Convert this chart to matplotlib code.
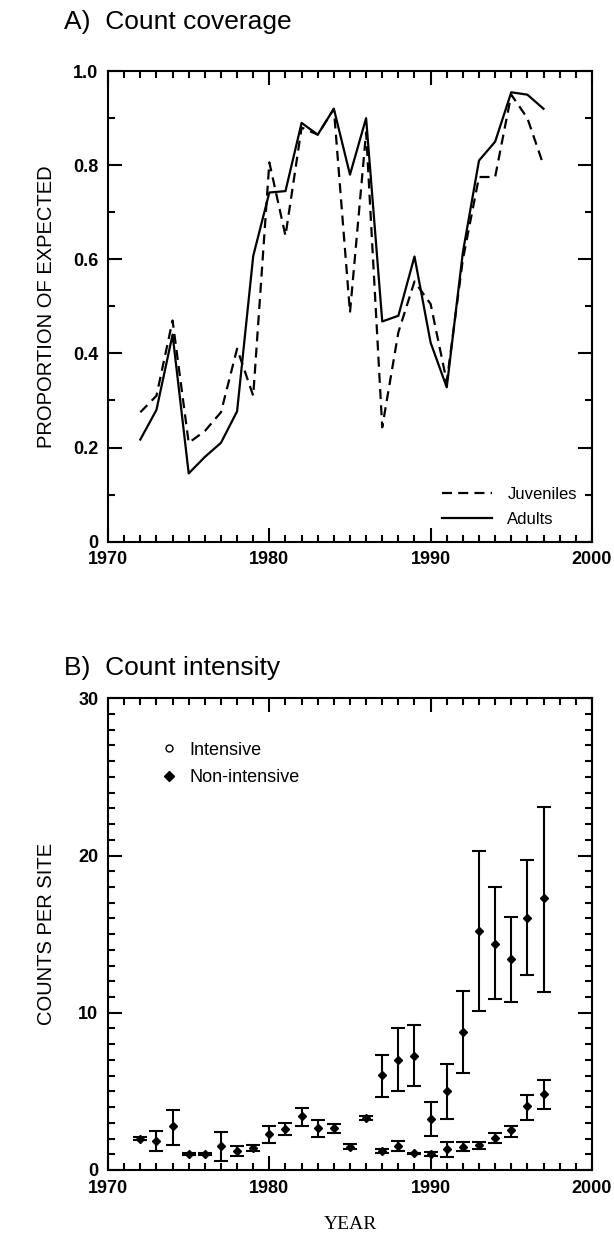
import numpy as np
import matplotlib
matplotlib.use('Agg')
import matplotlib.pyplot as plt
from matplotlib.lines import Line2D
from matplotlib.ticker import MultipleLocator

plt.rcParams['font.family'] = ['Liberation Sans', 'DejaVu Sans']

# A) count coverage
years_a = np.arange(1972, 1998)
juveniles = [0.275, 0.31, 0.47, 0.21, 0.235, 0.275, 0.41, 0.31, 0.806, 0.65,
             0.88, 0.865, 0.92, 0.487, 0.87, 0.243, 0.445, 0.553, 0.505, 0.34,
             0.60, 0.775, 0.775, 0.95, 0.90, 0.80]
adults = [0.217, 0.28, 0.44, 0.145, 0.18, 0.21, 0.277, 0.607, 0.742, 0.745,
          0.89, 0.865, 0.92, 0.78, 0.90, 0.468, 0.48, 0.606, 0.423, 0.328,
          0.615, 0.81, 0.85, 0.955, 0.95, 0.92]

# B) count intensity, low series (all years)
years_low = np.arange(1972, 1998)
low_mid = [2.0, 1.87, 2.77, 1.02, 1.02, 1.53, 1.21, 1.38, 2.28, 2.6,
           3.45, 2.66, 2.66, 1.49, 3.3, 1.21, 1.53, 1.06, 1.02, 1.34,
           1.49, 1.57, 2.06, 2.55, 4.04, 4.85]
low_top = [2.1, 2.49, 3.83, 1.1, 1.1, 2.4, 1.53, 1.57, 2.81, 2.98,
           3.94, 3.15, 2.94, 1.66, 3.45, 1.34, 1.87, 1.11, 1.17, 1.79,
           1.77, 1.81, 2.38, 2.81, 4.79, 5.74]
low_bot = [1.9, 1.19, 1.6, 0.94, 0.94, 0.57, 0.91, 1.19, 1.74, 2.23,
           2.81, 2.13, 2.38, 1.32, 3.15, 1.06, 1.21, 1.01, 0.87, 0.81,
           1.23, 1.34, 1.7, 2.13, 3.19, 3.87]

# high series (from 1987)
years_high = np.arange(1987, 1998)
high_mid = [6.02, 7.02, 7.28, 3.26, 5.0, 8.8, 15.2, 14.4, 13.4, 16.05, 17.3]
high_top = [7.34, 9.0, 9.2, 4.3, 6.74, 11.4, 20.3, 18.0, 16.1, 19.7, 23.1]
high_bot = [4.64, 5.0, 5.36, 2.17, 3.23, 6.17, 10.1, 10.9, 10.7, 12.4, 11.3]


def style_axes(ax):
    for s in ax.spines.values():
        s.set_linewidth(1.5)
    ax.tick_params(which='both', direction='in', top=True, right=True, width=1.5)
    ax.tick_params(which='major', length=10, labelsize=13, pad=7)
    ax.tick_params(which='minor', length=5)
    for lab in ax.get_xticklabels() + ax.get_yticklabels():
        lab.set_fontweight('bold')
    ax.set_xlim(1970, 2000)
    ax.xaxis.set_major_locator(MultipleLocator(10))
    ax.xaxis.set_minor_locator(MultipleLocator(1))


fig = plt.figure(figsize=(6.14, 12.48), dpi=100)
ax_left = 0.176
ax_w = 0.788

ax1 = fig.add_axes([ax_left, 0.566, ax_w, 0.377])
ax1.plot(years_a, juveniles, color='black', lw=1.6, linestyle=(0, (4.5, 2.8)), label='Juveniles')
ax1.plot(years_a, adults, color='black', lw=1.6, label='Adults')
ax1.set_ylim(0, 1.0)
ax1.yaxis.set_minor_locator(MultipleLocator(0.1))
ax1.set_yticks([0, 0.2, 0.4, 0.6, 0.8, 1.0])
ax1.set_yticklabels(['0', '0.2', '0.4', '0.6', '0.8', '1.0'])
style_axes(ax1)
ax1.set_ylabel('PROPORTION OF EXPECTED', fontsize=14.5, labelpad=12)
ax1.legend(loc='lower right', frameon=False, fontsize=12, handlelength=3.0,
           handletextpad=0.9, borderaxespad=0.5, labelspacing=0.6)
fig.text(0.105, 0.982, 'A)  Count coverage', fontsize=19, va='center')

ax2 = fig.add_axes([ax_left, 0.0625, ax_w, 0.378])
ax2.errorbar(years_low, low_mid,
             yerr=[np.subtract(low_mid, low_bot), np.subtract(low_top, low_mid)],
             fmt='D', color='black', ms=4.5, elinewidth=1.5, capsize=5, capthick=1.5)
ax2.errorbar(years_high, high_mid,
             yerr=[np.subtract(high_mid, high_bot), np.subtract(high_top, high_mid)],
             fmt='D', color='black', ms=4.5, elinewidth=1.5, capsize=5, capthick=1.5)
ax2.set_ylim(0, 30)
ax2.yaxis.set_major_locator(MultipleLocator(10))
ax2.yaxis.set_minor_locator(MultipleLocator(1))
style_axes(ax2)
ax2.set_ylabel('COUNTS PER SITE', fontsize=14.5, labelpad=16)
ax2.set_xlabel('YEAR', fontsize=14, family=['Liberation Serif'], labelpad=14)
handles = [Line2D([], [], marker='o', ls='none', mfc='white', mec='black', ms=5, mew=1),
           Line2D([], [], marker='D', ls='none', color='black', ms=5)]
ax2.legend(handles, ['Intensive', 'Non-intensive'], loc='upper left', frameon=False,
           fontsize=13, handletextpad=0.1, borderaxespad=2.0, labelspacing=0.6)
fig.text(0.105, 0.465, 'B)  Count intensity', fontsize=19, va='center')

fig.savefig('out.png', dpi=100)
